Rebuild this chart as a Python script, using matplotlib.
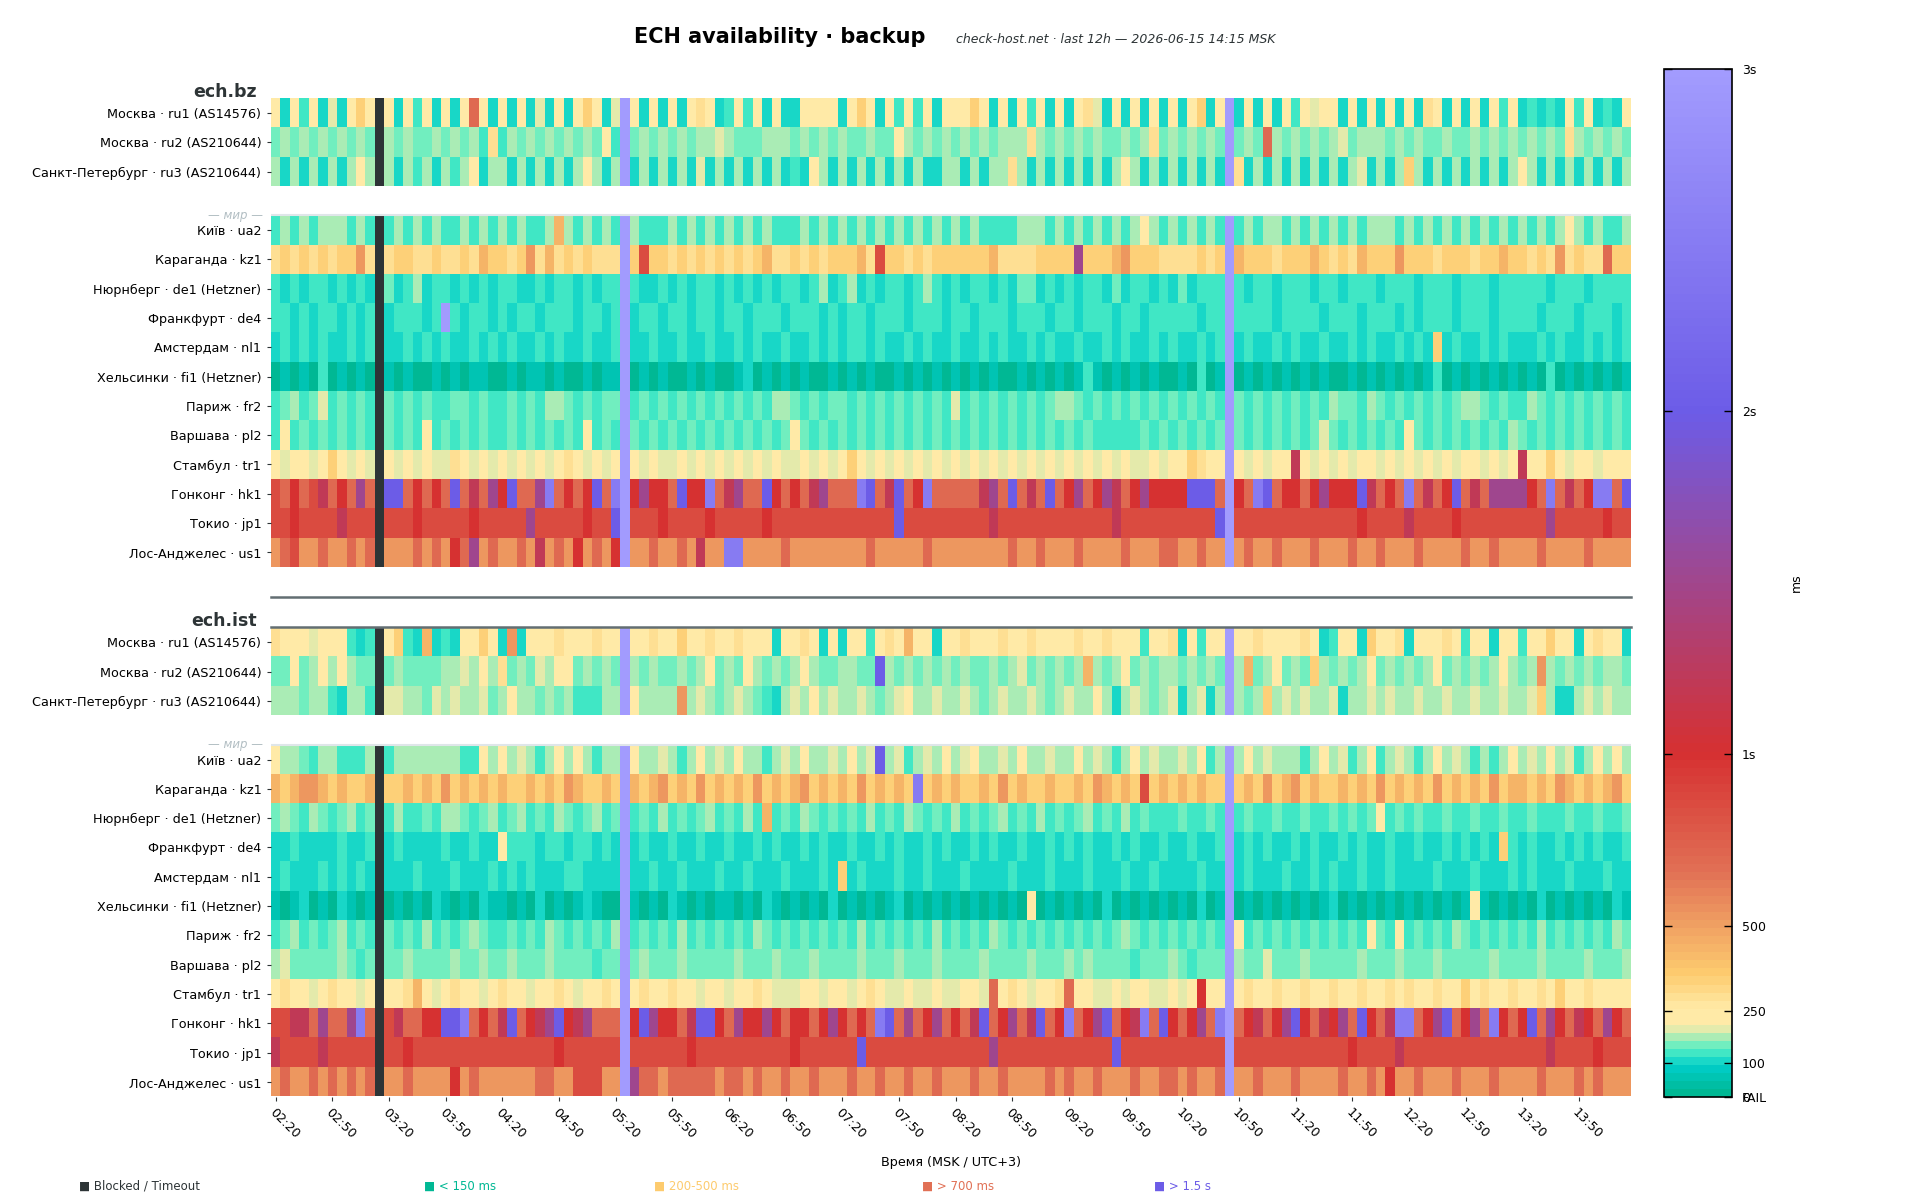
import numpy as np
import matplotlib
matplotlib.use("Agg")
import matplotlib.pyplot as plt
import matplotlib.transforms as mtransforms
from matplotlib.colors import LinearSegmentedColormap, ListedColormap, Normalize
from matplotlib.cm import ScalarMappable
from matplotlib.lines import Line2D

W, H = 1920, 1200
N_SLOTS = 144

ROW_LABELS = [
    "Москва · ru1 (AS14576)", "Москва · ru2 (AS210644)",
    "Санкт-Петербург · ru3 (AS210644)", "",
    "Київ · ua2", "Караганда · kz1", "Нюрнберг · de1 (Hetzner)",
    "Франкфурт · de4", "Амстердам · nl1", "Хельсинки · fi1 (Hetzner)",
    "Париж · fr2", "Варшава · pl2", "Стамбул · tr1", "Гонконг · hk1",
    "Токио · jp1", "Лос-Анджелес · us1",
]

TIME_LABELS = ["02:20", "02:50", "03:20", "03:50", "04:20", "04:50",
               "05:20", "05:50", "06:20", "06:50", "07:20", "07:50",
               "08:20", "08:50", "09:20", "09:50", "10:20", "10:50",
               "11:20", "11:50", "12:20", "12:50", "13:20", "13:50"]

# one char per 5-min slot; X = blocked / timeout
CODE_MS = {"0": 20, "1": 60, "2": 100, "3": 120, "4": 128, "5": 150,
           "6": 175, "7": 195, "8": 225, "9": 290, "a": 350, "b": 430,
           "c": 520, "d": 680, "e": 850, "f": 1000, "g": 1200, "h": 1500,
           "j": 2000, "k": 2500, "l": 3000}

BZ_ROWS = [
    ("828382728a8X" "828382828d82" "828272828a82" "7l8282828982"
     "383828228888" "28a828383828" "88a828283828" "289728282828"
     "28a28l282828" "387882828282" "829828282838" "232328382328"),
    ("56565656565X" "656556565649" "465656565658" "4l5656565667"
     "655566656565" "655655865656" "565656669656" "565655656956"
     "56565l565d65" "656567566656" "565565565656" "565659656565"),
    ("62626262686X" "626362636826" "626262626862" "6l2626262726"
     "262626232862" "626262626226" "626266962626" "262626862626"
     "26262l926262" "626262672626" "a62626262626" "862626262626"),
    "",
    ("36363666363X" "363636336363" "636336b63636" "3l6333636363"
     "636363436363" "636363636363" "636333366636" "363636368636"
     "36363l363663" "636363636663" "636363636363" "636368636336"),
    ("9a9a9a9aac9X" "9aa99a99a9ba" "a9ac9b9a9a99" "9laeaa9a9a9a"
     "9a9ab99a9a9a" "aab9eaa9a9aa" "aaaab9999aaa" "ahaaabcaaa99"
     "99a9albaaa9a" "aaba9a9baaac" "aaa9aaa9aaba" "a9a9c9a99daa"),
    ("42423424242X" "523623423242" "342242342423" "3l4224242342"
     "423242342462" "362423424642" "423424255242" "423425234242"
     "52333l323323" "332332333233" "323332333233" "333233323333"),
    ("33232332323X" "233323l32332" "323323332332" "3l2332332332"
     "332333233323" "233233323332" "332343233323" "323332332333"
     "33233l343323" "333233323332" "323332333233" "332333233323"),
    ("23232322323X" "223232322323" "232232322322" "3l2232232232"
     "232322322323" "244232232322" "322323223232" "232232322323"
     "22323l232232" "322322323223" "232a23223232" "223232232323"),
    ("01010301010X" "101001010110" "010110100101" "1l0101001010"
     "012010101001" "010100101010" "101010010101" "014101010100"
     "10301l010101" "010100101010" "101301010101" "010301010101"),
    ("45645745454X" "545454455454" "454546654545" "5l4545454545"
     "454546654545" "545454545454" "745454545456" "654545454545"
     "45454l545454" "545465546545" "454545665454" "465454545454"),
    ("38353535353X" "535383535353" "353535353835" "3l5353535353"
     "535353585353" "535353535353" "535353535353" "535333335353"
     "53535l535353" "535753535353" "853535353536" "535353535353"),
    ("878878a8787X" "878787798787" "878787898787" "8l8787787878"
     "787878778787" "8a8787878787" "878787878787" "878787877878"
     "8a988l878788" "g87878788787" "878787887878" "g88a87887888"),
    ("edfdegdfdhdX" "jjdfdfdjdgdh" "fjddhkdfdfjd" "klfhffdjffkd"
     "ghddjfdfdghd" "ddkjdgjdfkdd" "dddghdjdgdjd" "fhdfhgdfhfff"
     "fjjjdlfdkjdf" "fdfhfffjgdfd" "kdgdfjdgdhhh" "hfdkdgdfkkdj"),
    ("eefeeeegeeeX" "eeefeeeeefee" "eeeheeeeefee" "jleeefeeeefe"
     "eeeefeeeeeee" "eeeeeejeeeee" "eeeegeeeeeee" "eeeeegeeeeee"
     "eeeejleeeeee" "eeeeeeefeeee" "geeeefeeeeee" "eeeheeeeefee"),
    ("cdeccdccdcdX" "cccdcdcfdhcd" "ccdcgcdcfcdc" "flccdccdcgcc"
     "kkccccdccccc" "cccdcccccdcc" "ccccccdccdcc" "cdccccdcccdd"
     "ccdcclcdccdc" "ccdcccdccdcc" "cdccccdccdcc" "ccdccccdcccc"),
]

IST_ROWS = [
    ("98887888423X" "8a42b24288a8" "2c2888988898" "8l88988a8898"
     "898882889828" "2883898b8828" "898889889888" "898898883889"
     "28388l889888" "89823882a889" "288898388288" "388a88289882"),
    ("55856868655X" "565555667686" "956576885656" "5l6565565685"
     "658656568655" "6655j6565656" "565565675656" "56b656856566"
     "56565l6b5685" "65a656568565" "656856565686" "56c656565665"),
    ("66656642663X" "776657676675" "686656564336" "6l86666c6765"
     "676532676867" "667656786676" "676567667656" "766862676567"
     "26726l656a67" "676672667676" "676676676676" "67a622676766"),
    "",
    ("86653663336X" "366666663386" "867636868636" "6l8667636867"
     "686636768667" "6867j6736768" "678667686676" "686763686766"
     "76836l686766" "636867368367" "636867636368" "676867368686"),
    ("babccbabaabX" "aababacababa" "baababacbaab" "albabcabacab"
     "abacababcaba" "bacababakaba" "baabacabaaba" "abacbabaeaba"
     "babaalabacab" "cabaababacab" "abacababacab" "babacbababca"),
    ("56536535635X" "363353665356" "356353653563" "5l3536353563"
     "5363b3536535" "353635365353" "635356353635" "356353635333"
     "53353l353353" "353353535835" "353353353353" "353335335335"),
    ("22322223223X" "232222322322" "833323323323" "2l2322322322"
     "322323223232" "232232322323" "223232232232" "323223232232"
     "23223l232322" "323223232232" "2322323232a3" "232232323223"),
    ("23222323232X" "222322232223" "232322234222" "2l2232232223"
     "223222322232" "a23222322322" "232222322232" "223222322322"
     "22422l232223" "223242232232" "222322232223" "232223222322"),
    ("10120102101X" "010102101021" "101020101210" "0l1010210101"
     "101021010102" "010101201010" "101010108010" "101020101010"
     "10201l010101" "010120101010" "101010181010" "102010101021"),
    ("45645456454X" "545464545654" "454546545454" "6l4545464545"
     "454654545454" "546454545464" "545465454545" "454545654545"
     "45454l845454" "545454548548" "454546545454" "546454545465"),
    ("67555556535X" "556555565565" "565556555535" "5l5655565555"
     "565556555655" "556555655565" "555655556555" "656555535556"
     "53555l655755" "565555565556" "555655555655" "556555565556"),
    ("89887898878X" "889b87898878" "988788987889" "8l8988988788"
     "788987778878" "878987787787" "7887d8987889" "d88778788778"
     "78f88l898898" "898898898898" "988988a89889" "8898a8898888"),
    ("eeggdhddhkdX" "egddffjjkdfd" "gjdfghjfghdd" "dlfjhffdgjjf"
     "dhffhfdffdfh" "fdfdkjdhdfhd" "fdgjdfhdgjdf" "kdfhjdfgkdjf"
     "dfhdkldfgdfh" "jfdgfhdjfdgk" "kdfhjdfhdkfd" "fjdhfdgfdhfd"),
    ("geeeegeeeeeX" "eefeeeeeeeee" "eeeeeefeeeee" "eleeeeeefeee"
     "eeeeeeefeeee" "eejeeeeeeeee" "eeeeheeeeeee" "eeeeejeeeeee"
     "eeeeeleeeeee" "eeeeeefeeeeg" "eeeeeeeeeeee" "eeegeeeefeee"),
    ("cdccdcdcdcdX" "ccdccccfcdcc" "ccccddcceeec" "clhddcdddddc"
     "ddcdccdccdcc" "cdccdccdccdc" "ccdccdccccdc" "dccdcccdccdd"
     "cdccdlccdccc" "dccccdccdcfc" "cdcccdcccdcc" "ccdcccdcdccc"),
]

CMAP_STOPS = [0, 80, 130, 200, 250, 350, 650, 1000, 2000, 3000]
CMAP_COLORS = ["#00b894", "#00cec9", "#55efc4", "#ffeaa7", "#ffeaa7",
               "#fdcb6e", "#e17055", "#d63031", "#6c5ce7", "#a29bfe"]
BLOCK_COLOR = "#2d3436"

CB_TICKS = [0, 100, 250, 500, 1000, 2000, 3000]
CB_LABELS = ["0", "100", "250", "500", "1s", "2s", "3s"]

LEGEND = [("■ Blocked / Timeout", "#2d3436"), ("■ < 150 ms", "#00b894"),
          ("■ 200-500 ms", "#fdcb6e"), ("■ > 700 ms", "#e17055"),
          ("■ > 1.5 s", "#6c5ce7")]


def fx(px):
    return px / W


def fy(py):
    return 1 - py / H


def decode(rows):
    vals = np.full((len(rows), N_SLOTS), np.nan)
    blocked = np.zeros(vals.shape, dtype=bool)
    for i, line in enumerate(rows):
        for j, ch in enumerate(line[:N_SLOTS]):
            if ch == "X":
                blocked[i, j] = True
            else:
                vals[i, j] = CODE_MS[ch]
    return vals, blocked


cmap = LinearSegmentedColormap.from_list(
    "ech", list(zip(np.array(CMAP_STOPS) / 3000, CMAP_COLORS)), N=128)
norm = Normalize(vmin=0, vmax=3000)


def draw_panel(ax, name, rows):
    vals, blocked = decode(rows)
    ext = (-0.5, N_SLOTS - 0.5, len(rows) - 0.5, -0.5)
    ax.imshow(np.ma.masked_invalid(vals), cmap=cmap, norm=norm,
              aspect="auto", interpolation="nearest", extent=ext)
    ax.imshow(np.ma.masked_where(~blocked, np.ones(vals.shape)),
              cmap=ListedColormap([BLOCK_COLOR]), aspect="auto",
              interpolation="nearest", extent=ext)
    ax.axhline(3.5, color="#dfe6e9", lw=1.5)

    idx = [i for i, lab in enumerate(ROW_LABELS) if lab]
    ax.set_yticks(idx)
    ax.set_yticklabels([ROW_LABELS[i] for i in idx], fontsize=9.2)
    ax.tick_params(axis="y", length=3, width=0.8, pad=4, color="#2d3436")
    for s in ax.spines.values():
        s.set_visible(False)

    ax.text(-0.0103, 1.003, name, transform=ax.transAxes, ha="right",
            va="baseline", fontsize=12.5, fontweight="bold", color="#2d3436")
    trans = mtransforms.blended_transform_factory(ax.transAxes, ax.transData)
    ax.text(-0.0056, 3.5, "— мир —", transform=trans, ha="right", va="center",
            fontsize=8.5, style="italic", color="#b2bec3")


fig = plt.figure(figsize=(W / 100, H / 100), dpi=100)

ax1 = fig.add_axes([fx(271), fy(567), fx(1631) - fx(271), fy(98.3) - fy(567)])
ax2 = fig.add_axes([fx(271), fy(1096.5), fx(1631) - fx(271),
                    fy(627.7) - fy(1096.5)])

draw_panel(ax1, "ech.bz", BZ_ROWS)
draw_panel(ax2, "ech.ist", IST_ROWS)

ax1.set_xticks([])
ax2.set_xticks(np.arange(0, N_SLOTS, 6))
ax2.set_xticklabels(TIME_LABELS, rotation=-45, ha="left", va="top",
                    rotation_mode="anchor", fontsize=9.2)
ax2.tick_params(axis="x", length=3, width=0.8, pad=4, color="#2d3436")

for py in (597.3, 626.5):
    fig.add_artist(Line2D([fx(271), fx(1631)], [fy(py), fy(py)],
                          color="#636e72", lw=1.8))

# colorbar
cax = fig.add_axes([fx(1664), fy(1097), fx(1732) - fx(1664), fy(68.6) - fy(1097)])
cb = fig.colorbar(ScalarMappable(norm=norm, cmap=cmap), cax=cax)
cb.set_ticks(CB_TICKS, labels=CB_LABELS)
cax.tick_params(direction="in", left=True, right=True, length=6, width=1,
                labelsize=9, pad=7)
cb.outline.set_linewidth(1.2)
cb.outline.set_edgecolor("black")
ctrans = mtransforms.blended_transform_factory(cax.transAxes, cax.transData)
cax.text(1.147, 0, "FAIL", transform=ctrans, ha="left", va="center_baseline",
         fontsize=9)
fig.text(fx(1796), (fy(68.6) + fy(1097)) / 2, "ms", rotation=90,
         ha="center", va="center", fontsize=9)

fig.text(fx(633.5), fy(43.3), "ECH availability · backup", fontsize=15,
         fontweight="bold", ha="left", va="baseline")
fig.text(fx(956), fy(43.3), "check-host.net · last 12h — 2026-06-15 14:15 MSK",
         fontsize=9, style="italic", ha="left", va="baseline", color="#2d3436")

fig.text(fx(951), fy(1166), "Время (MSK / UTC+3)", ha="center", va="baseline",
         fontsize=9.2)

for (label, color), px in zip(LEGEND, [78.6, 424, 654.5, 922, 1153.6]):
    fig.text(fx(px), fy(1189.5), label, color=color, fontsize=8.5,
             ha="left", va="baseline")

fig.savefig("out.png", dpi=100)
